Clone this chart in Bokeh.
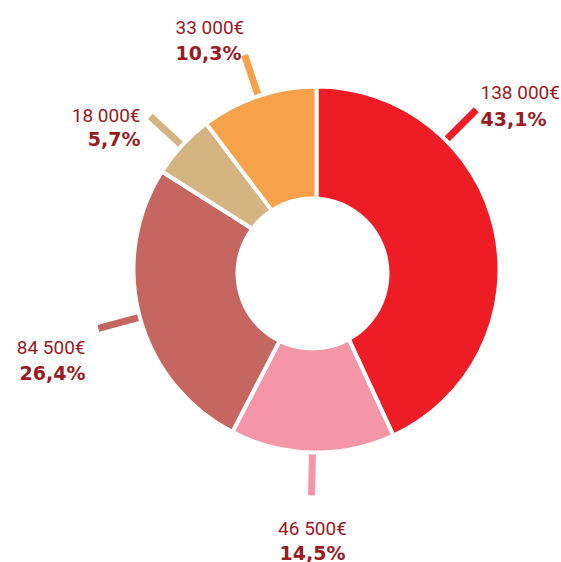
import math
from bokeh.plotting import figure
from bokeh.models import Range1d
from bokeh.core.properties import value
from bokeh.embed import file_html
from bokeh.resources import INLINE

# ---- data (clockwise from 12 o'clock) ----
amounts = ["138 000€", "46 500€", "84 500€", "18 000€", "33 000€"]
percents = [43.1, 14.5, 26.4, 5.7, 10.3]
colors = ["#ee1d25", "#f495a8", "#c66660", "#d4b480", "#f7a24b"]

# ---- layout (screen px of the 561x562 page) ----
W, H = 561, 562
def Y(sy):
    return H - sy

cx, cy = 316, Y(269)
r_out = 183
hole_x, hole_y, r_in = 312, Y(273), 77
leader_r0, leader_r1 = 170, 226
leader_angle_override = {0: 45.0}  # degrees clockwise from top
label_pos = [  # x, value baseline, pct baseline, align
    (480, 92, 118, "left"),
    (312, 528, 552, "center"),
    (85, 347, 372, "right"),
    (140, 115, 138, "right"),
    (175, 27, 52, "left"),
]
text_color = "#9a1a1f"

p = figure(width=W, height=H, output_backend="svg", toolbar_location=None,
           x_range=Range1d(0, W), y_range=Range1d(0, H),
           min_border=0)
p.axis.visible = False
p.grid.visible = False
p.outline_line_color = None
p.background_fill_color = "white"

total = sum(percents)
cum = 0.0
starts, ends, mids = [], [], []
for v in percents:
    s = cum / total
    e = (cum + v) / total
    cum += v
    starts.append(math.pi / 2 - 2 * math.pi * e)
    ends.append(math.pi / 2 - 2 * math.pi * s)
    mids.append((s + e) / 2 * 360.0)

# leader lines (behind wedges)
for i, c in enumerate(colors):
    a = leader_angle_override.get(i, mids[i])
    ar = math.radians(a)
    dx, dy = math.sin(ar), math.cos(ar)
    p.line([cx + leader_r0 * dx, cx + leader_r1 * dx],
           [cy + leader_r0 * dy, cy + leader_r1 * dy],
           line_color=c, line_width=7, line_cap="butt")

p.wedge(x=cx, y=cy, radius=r_out, start_angle=starts, end_angle=ends,
        fill_color=colors, line_color="white", line_width=4)
p.circle(x=hole_x, y=hole_y, radius=r_in, fill_color="white", line_color=None)

for i in range(len(amounts)):
    x, vb, pb, al = label_pos[i]
    pct = ("%.1f" % percents[i]).replace(".", ",") + "%"
    p.text(x=[x], y=[Y(vb)], text=[amounts[i]], text_align=al,
           text_baseline="alphabetic", text_font=value("Roboto"),
           text_font_size="19px", text_color=text_color)
    p.text(x=[x], y=[Y(pb)], text=[pct], text_align=al,
           text_baseline="alphabetic", text_font=value("DejaVu Sans"),
           text_font_style="bold", text_font_size="19px", text_color=text_color)

open("out.html", "w").write(file_html(p, INLINE))
